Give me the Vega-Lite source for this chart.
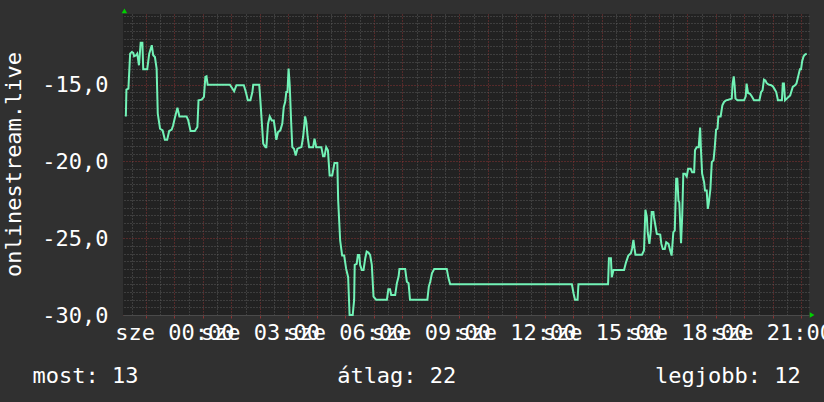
{
  "$schema": "https://vega.github.io/schema/vega-lite/v6.json",
  "width": 686,
  "height": 301,
  "autosize": {"type": "none"},
  "padding": {"left": 123, "top": 14, "right": 15, "bottom": 87},
  "background": "#303030",
  "config": {
    "view": {"fill": "#222222", "stroke": null},
    "font": "DejaVu Sans Mono"
  },
  "data": {"values": [
    {"h": -1.70, "v": -17.07}, {"h": -1.68, "v": -15.33}, {"h": -1.61, "v": -15.26}, {"h": -1.55, "v": -12.98},
    {"h": -1.49, "v": -12.87}, {"h": -1.44, "v": -12.93}, {"h": -1.41, "v": -13.15}, {"h": -1.34, "v": -13.09},
    {"h": -1.30, "v": -12.98}, {"h": -1.24, "v": -13.74}, {"h": -1.18, "v": -12.28}, {"h": -1.12, "v": -12.28},
    {"h": -1.09, "v": -14.0}, {"h": -0.95, "v": -14.0}, {"h": -0.88, "v": -12.98}, {"h": -0.79, "v": -12.43},
    {"h": -0.74, "v": -13.09}, {"h": -0.68, "v": -13.2}, {"h": -0.62, "v": -13.96}, {"h": -0.58, "v": -16.89},
    {"h": -0.50, "v": -17.87}, {"h": -0.41, "v": -17.98}, {"h": -0.33, "v": -18.59}, {"h": -0.25, "v": -18.59},
    {"h": -0.18, "v": -18.02}, {"h": -0.09, "v": -17.93}, {"h": -0.04, "v": -17.65}, {"h": 0.02, "v": -17.15},
    {"h": 0.11, "v": -16.5}, {"h": 0.18, "v": -17.07}, {"h": 0.43, "v": -17.07}, {"h": 0.49, "v": -17.33},
    {"h": 0.57, "v": -18.02}, {"h": 0.72, "v": -18.02}, {"h": 0.81, "v": -17.76}, {"h": 0.85, "v": -16.02},
    {"h": 0.96, "v": -15.98}, {"h": 1.04, "v": -15.8}, {"h": 1.09, "v": -14.5}, {"h": 1.13, "v": -14.46},
    {"h": 1.17, "v": -15.0}, {"h": 1.95, "v": -15.0}, {"h": 2.02, "v": -15.2}, {"h": 2.10, "v": -15.43},
    {"h": 2.18, "v": -15.04}, {"h": 2.44, "v": -15.04}, {"h": 2.51, "v": -15.48}, {"h": 2.58, "v": -16.02},
    {"h": 2.67, "v": -16.02}, {"h": 2.74, "v": -15.48}, {"h": 2.77, "v": -15.0}, {"h": 2.98, "v": -15.0},
    {"h": 3.02, "v": -16.02}, {"h": 3.12, "v": -18.85}, {"h": 3.20, "v": -19.07}, {"h": 3.23, "v": -19.07},
    {"h": 3.29, "v": -17.54}, {"h": 3.35, "v": -17.07}, {"h": 3.42, "v": -17.33}, {"h": 3.49, "v": -17.33},
    {"h": 3.54, "v": -17.98}, {"h": 3.58, "v": -18.59}, {"h": 3.64, "v": -18.09}, {"h": 3.72, "v": -17.98},
    {"h": 3.79, "v": -17.54}, {"h": 3.84, "v": -16.46}, {"h": 3.89, "v": -16.13}, {"h": 3.93, "v": -15.48},
    {"h": 3.97, "v": -15.48}, {"h": 4.01, "v": -13.96}, {"h": 4.05, "v": -15.04}, {"h": 4.10, "v": -17.43},
    {"h": 4.14, "v": -19.07}, {"h": 4.20, "v": -19.17}, {"h": 4.26, "v": -19.61}, {"h": 4.32, "v": -19.17},
    {"h": 4.46, "v": -19.07}, {"h": 4.52, "v": -18.41}, {"h": 4.59, "v": -17.07}, {"h": 4.63, "v": -17.43},
    {"h": 4.68, "v": -18.41}, {"h": 4.73, "v": -19.07}, {"h": 4.87, "v": -19.07}, {"h": 4.92, "v": -18.52},
    {"h": 4.98, "v": -19.07}, {"h": 5.16, "v": -19.07}, {"h": 5.22, "v": -19.67}, {"h": 5.27, "v": -19.67},
    {"h": 5.33, "v": -19.07}, {"h": 5.39, "v": -19.28}, {"h": 5.45, "v": -20.91}, {"h": 5.54, "v": -20.91},
    {"h": 5.62, "v": -20.11}, {"h": 5.72, "v": -20.11}, {"h": 5.75, "v": -22.54}, {"h": 5.82, "v": -25.15},
    {"h": 5.89, "v": -26.13}, {"h": 5.96, "v": -26.13}, {"h": 6.03, "v": -27.0}, {"h": 6.10, "v": -27.54},
    {"h": 6.15, "v": -30.0}, {"h": 6.26, "v": -30.0}, {"h": 6.31, "v": -29.02}, {"h": 6.33, "v": -26.74},
    {"h": 6.40, "v": -26.67}, {"h": 6.44, "v": -26.09}, {"h": 6.49, "v": -26.09}, {"h": 6.52, "v": -26.74},
    {"h": 6.58, "v": -27.07}, {"h": 6.64, "v": -27.07}, {"h": 6.70, "v": -26.3}, {"h": 6.75, "v": -25.87},
    {"h": 6.81, "v": -25.93}, {"h": 6.87, "v": -26.09}, {"h": 6.93, "v": -26.74}, {"h": 6.99, "v": -28.8},
    {"h": 7.08, "v": -29.0}, {"h": 7.46, "v": -29.0}, {"h": 7.51, "v": -28.33}, {"h": 7.57, "v": -28.33},
    {"h": 7.61, "v": -28.7}, {"h": 7.75, "v": -28.7}, {"h": 7.81, "v": -27.93}, {"h": 7.87, "v": -27.5},
    {"h": 7.90, "v": -27.0}, {"h": 8.10, "v": -27.0}, {"h": 8.16, "v": -27.83}, {"h": 8.22, "v": -27.93},
    {"h": 8.27, "v": -29.0}, {"h": 8.88, "v": -29.0}, {"h": 8.93, "v": -28.15}, {"h": 8.98, "v": -27.83},
    {"h": 9.04, "v": -27.28}, {"h": 9.12, "v": -27.0}, {"h": 9.56, "v": -27.0}, {"h": 9.62, "v": -27.6},
    {"h": 9.68, "v": -28.0}, {"h": 13.95, "v": -28.0}, {"h": 14.01, "v": -28.6}, {"h": 14.06, "v": -29.0},
    {"h": 14.15, "v": -29.0}, {"h": 14.18, "v": -28.0}, {"h": 15.22, "v": -28.0}, {"h": 15.25, "v": -26.3},
    {"h": 15.32, "v": -26.3}, {"h": 15.35, "v": -27.54}, {"h": 15.41, "v": -27.07}, {"h": 15.78, "v": -27.07},
    {"h": 15.85, "v": -26.57}, {"h": 15.93, "v": -26.13}, {"h": 16.02, "v": -25.98}, {"h": 16.06, "v": -25.7},
    {"h": 16.11, "v": -25.11}, {"h": 16.15, "v": -25.7}, {"h": 16.18, "v": -26.07}, {"h": 16.41, "v": -26.07},
    {"h": 16.48, "v": -25.8}, {"h": 16.53, "v": -23.15}, {"h": 16.58, "v": -23.63}, {"h": 16.61, "v": -24.61},
    {"h": 16.67, "v": -25.37}, {"h": 16.72, "v": -24.5}, {"h": 16.75, "v": -23.3}, {"h": 16.81, "v": -23.3},
    {"h": 16.83, "v": -23.63}, {"h": 16.93, "v": -24.72}, {"h": 17.05, "v": -24.76}, {"h": 17.09, "v": -25.37},
    {"h": 17.14, "v": -25.7}, {"h": 17.21, "v": -25.7}, {"h": 17.26, "v": -25.26}, {"h": 17.34, "v": -25.37},
    {"h": 17.40, "v": -25.8}, {"h": 17.45, "v": -26.13}, {"h": 17.51, "v": -24.61}, {"h": 17.56, "v": -24.5},
    {"h": 17.61, "v": -21.13}, {"h": 17.65, "v": -21.13}, {"h": 17.69, "v": -22.59}, {"h": 17.72, "v": -22.65},
    {"h": 17.78, "v": -25.33}, {"h": 17.82, "v": -23.63}, {"h": 17.86, "v": -20.8}, {"h": 17.92, "v": -20.8},
    {"h": 17.98, "v": -20.98}, {"h": 18.03, "v": -20.48}, {"h": 18.12, "v": -20.48}, {"h": 18.17, "v": -20.7},
    {"h": 18.24, "v": -20.7}, {"h": 18.27, "v": -19.28}, {"h": 18.33, "v": -19.07}, {"h": 18.40, "v": -19.07},
    {"h": 18.45, "v": -17.8}, {"h": 18.48, "v": -19.28}, {"h": 18.52, "v": -20.8}, {"h": 18.59, "v": -21.35},
    {"h": 18.62, "v": -21.9}, {"h": 18.68, "v": -21.9}, {"h": 18.72, "v": -23.09}, {"h": 18.75, "v": -22.76},
    {"h": 18.81, "v": -21.8}, {"h": 18.86, "v": -20.04}, {"h": 18.92, "v": -19.93}, {"h": 18.96, "v": -19.17},
    {"h": 19.01, "v": -17.93}, {"h": 19.06, "v": -17.87}, {"h": 19.09, "v": -17.07}, {"h": 19.17, "v": -17.07},
    {"h": 19.23, "v": -16.35}, {"h": 19.29, "v": -16.13}, {"h": 19.36, "v": -16.02}, {"h": 19.44, "v": -15.98},
    {"h": 19.56, "v": -15.91}, {"h": 19.59, "v": -14.93}, {"h": 19.63, "v": -14.46}, {"h": 19.66, "v": -15.04},
    {"h": 19.69, "v": -15.91}, {"h": 19.76, "v": -16.02}, {"h": 19.99, "v": -16.02}, {"h": 20.05, "v": -15.76},
    {"h": 20.08, "v": -14.93}, {"h": 20.13, "v": -15.54}, {"h": 20.20, "v": -15.59}, {"h": 20.26, "v": -15.76},
    {"h": 20.34, "v": -16.02}, {"h": 20.53, "v": -16.02}, {"h": 20.59, "v": -15.48}, {"h": 20.64, "v": -15.37},
    {"h": 20.69, "v": -14.67}, {"h": 20.74, "v": -14.72}, {"h": 20.78, "v": -14.89}, {"h": 20.84, "v": -14.98},
    {"h": 20.94, "v": -15.04}, {"h": 21.00, "v": -15.11}, {"h": 21.05, "v": -15.26}, {"h": 21.12, "v": -15.48},
    {"h": 21.18, "v": -16.02}, {"h": 21.32, "v": -16.02}, {"h": 21.35, "v": -14.93}, {"h": 21.39, "v": -14.93},
    {"h": 21.43, "v": -16.02}, {"h": 21.49, "v": -15.91}, {"h": 21.55, "v": -15.8}, {"h": 21.61, "v": -15.7},
    {"h": 21.70, "v": -15.15}, {"h": 21.78, "v": -15.04}, {"h": 21.83, "v": -14.93}, {"h": 21.90, "v": -14.39},
    {"h": 21.95, "v": -14.0}, {"h": 21.99, "v": -14.0}, {"h": 22.03, "v": -13.48}, {"h": 22.08, "v": -13.15},
    {"h": 22.13, "v": -13.04}, {"h": 22.19, "v": -12.98}
  ]},
  "layer": [
    {
      "mark": {"type": "line", "opacity": 0},
      "encoding": {
        "x": {
          "field": "h", "type": "quantitative",
          "scale": {"domain": [-1.8, 22.27], "nice": false, "zero": false},
          "axis": {
            "orient": "top", "title": null, "labels": false, "ticks": false, "domain": false,
            "grid": true, "gridColor": "#5a5a5a", "gridDash": [1, 2], "gridWidth": 1,
            "values": [-1.5, -0.5, 0.5, 1.5, 2.5, 3.5, 4.5, 5.5, 6.5, 7.5, 8.5, 9.5, 10.5, 11.5, 12.5, 13.5, 14.5, 15.5, 16.5, 17.5, 18.5, 19.5, 20.5, 21.5]
          }
        },
        "y": {
          "field": "v", "type": "quantitative",
          "scale": {"domain": [-30, -10.4], "nice": false, "zero": false},
          "axis": {
            "orient": "right", "title": null, "labels": false, "ticks": false, "domain": false,
            "grid": true, "gridColor": "#5a5a5a", "gridDash": [1, 2], "gridWidth": 1,
            "values": [-29.5, -29, -28.5, -28, -27.5, -27, -26.5, -26, -25.5, -24.5, -24, -23.5, -23, -22.5, -22, -21.5, -21, -20.5, -19.5, -19, -18.5, -18, -17.5, -17, -16.5, -16, -15.5, -14.5, -14, -13.5, -13, -12.5, -12, -11.5, -11, -10.5]
          }
        }
      }
    },
    {
      "mark": {"type": "line", "color": "#72f2b6", "strokeWidth": 2},
      "encoding": {
        "x": {
          "field": "h", "type": "quantitative",
          "axis": {
            "orient": "bottom",
            "values": [-1, 0, 1, 2, 3, 4, 5, 6, 7, 8, 9, 10, 11, 12, 13, 14, 15, 16, 17, 18, 19, 20, 21, 22],
            "labelExpr": "(datum.value % 3 == 0 && datum.value >= 0) ? 'sze ' + (datum.value < 10 ? '0' : '') + datum.value + ':00' : ''",
            "labelOverlap": false, "labelBound": false, "labelFlush": false,
            "labelFont": "DejaVu Sans Mono", "labelFontSize": 22, "labelColor": "#ffffff",
            "labelPadding": 4, "labelBaseline": "top",
            "ticks": true, "tickSize": 3, "tickColor": "#8a3333",
            "domain": true, "domainColor": "#4a4a4a",
            "grid": true, "gridColor": "#8a3333", "gridDash": [1, 2], "gridWidth": 1,
            "title": "most: 13\u00a0\u00a0\u00a0\u00a0\u00a0\u00a0\u00a0\u00a0\u00a0\u00a0\u00a0\u00a0\u00a0\u00a0\u00a0átlag: 22\u00a0\u00a0\u00a0\u00a0\u00a0\u00a0\u00a0\u00a0\u00a0\u00a0\u00a0\u00a0\u00a0\u00a0\u00a0legjobb: 12",
            "titleFont": "DejaVu Sans Mono", "titleFontSize": 22, "titleFontWeight": "normal", "titleColor": "#ffffff",
            "titleAnchor": "start", "titleAlign": "left", "titleBaseline": "alphabetic",
            "titleX": -91, "titleY": 67
          }
        },
        "y": {
          "field": "v", "type": "quantitative",
          "axis": {
            "orient": "left",
            "values": [-30, -25, -20, -15],
            "labelExpr": "'-' + replace(format(abs(datum.value), '.1f'), '.', ',')",
            "labelFont": "DejaVu Sans Mono", "labelFontSize": 22, "labelColor": "#ffffff",
            "labelPadding": 15, "ticks": false, "domain": false,
            "grid": true, "gridColor": "#8a3333", "gridDash": [1, 2], "gridWidth": 1,
            "title": "onlinestream.live",
            "titleFont": "DejaVu Sans Mono", "titleFontSize": 22, "titleFontWeight": "normal", "titleColor": "#ffffff",
            "titleAngle": 270, "titleAlign": "center", "titleBaseline": "alphabetic",
            "titleX": -103, "titleY": 150
          }
        }
      }
    },
    {
      "data": {"values": [{}]},
      "mark": {"type": "point", "shape": "triangle-up", "filled": true, "color": "#00d000", "opacity": 1, "size": 30},
      "encoding": {
        "x": {"datum": -1.75, "type": "quantitative", "axis": null},
        "y": {"datum": -10.2, "type": "quantitative", "axis": null}
      }
    },
    {
      "data": {"values": [{}]},
      "mark": {"type": "point", "shape": "triangle-right", "filled": true, "color": "#00d000", "opacity": 1, "size": 30},
      "encoding": {
        "x": {"datum": 22.38, "type": "quantitative", "axis": null},
        "y": {"datum": -30, "type": "quantitative", "axis": null}
      }
    }
  ],
  "resolve": {"axis": {"x": "independent", "y": "independent"}}
}
